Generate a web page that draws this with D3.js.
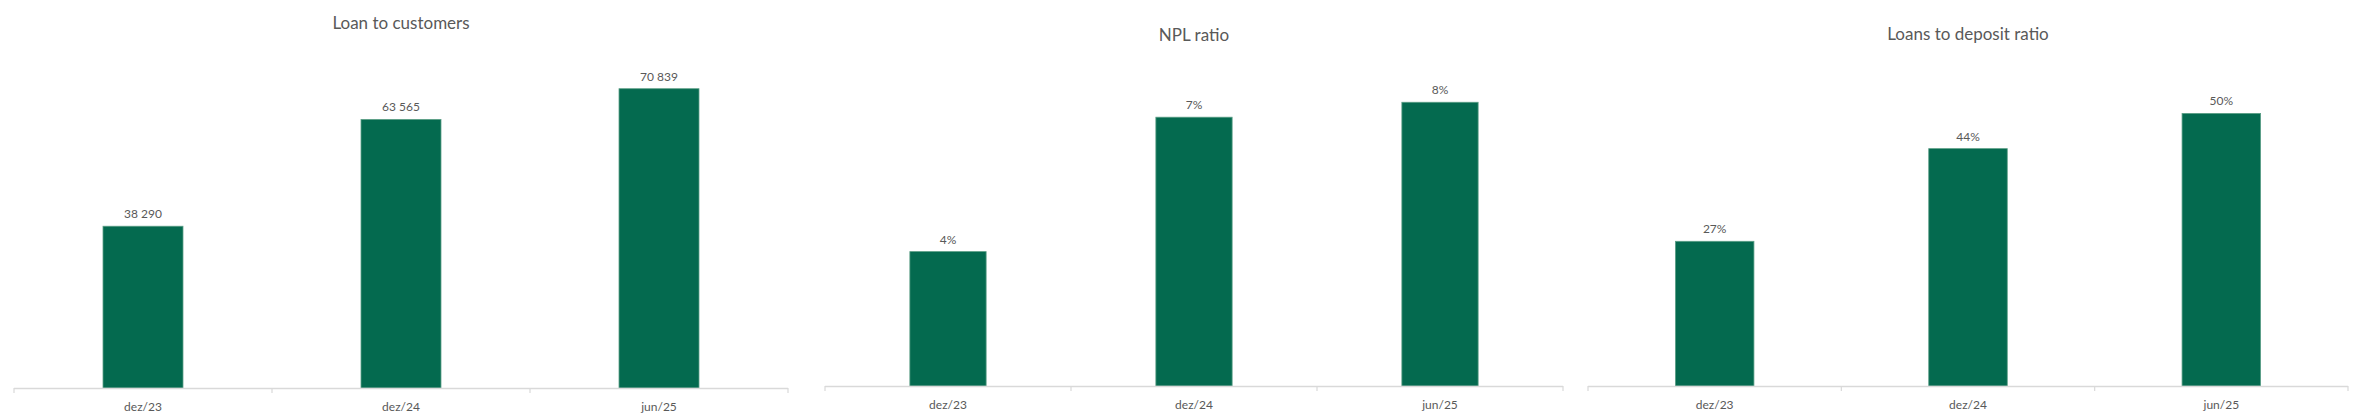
<!DOCTYPE html>
<html lang="en">
    <head>
        <meta charset="utf-8">
        <title>Loans, NPL and LTD</title>
        <script src="https://d3js.org/d3.v7.min.js"></script>
        <style>
            body { margin: 0; background: #fff; }
            svg text { font-family: Lato, "Open Sans", sans-serif; fill: #595959; }
        </style>
    </head>
    <body>
        <svg width="2358" height="420" id="svg"></svg>
        <script>
            // data
            var categories = ["dez/23", "dez/24", "jun/25"];
            var titles = ["Loan to customers", "NPL ratio", "Loans to deposit ratio"];
            var loanValues = [38290, 63565, 70839];
            var nplValues = [0.036, 0.072, 0.076];
            var ltdValues = [0.267, 0.438, 0.503];

            var svg = d3.select("#svg");

            var fmtLoan = function(v) { return d3.format(",")(v).replace(/,/g, " "); };
            var fmtPct = d3.format(".0%");

            // one panel per metric: where it sits and how the value axis runs
            var panels = [
                {title: titles[0], values: loanValues, fmt: fmtLoan, x0: 14, x1: 788, base: 388, titleY: 29, yMax: 80000},
                {title: titles[1], values: nplValues, fmt: fmtPct, x0: 825, x1: 1563, base: 386, titleY: 41, yMax: 0.09},
                {title: titles[2], values: ltdValues, fmt: fmtPct, x0: 1588, x1: 2348, base: 386, titleY: 40, yMax: 0.62}
            ];

            panels.forEach(function(p) {
                var g = svg.append("g");

                var x = d3.scaleBand()
                    .domain(categories)
                    .range([p.x0, p.x1])
                    .paddingInner(0.69)
                    .paddingOuter(0.345);

                var y = d3.scaleLinear()
                    .domain([0, p.yMax])
                    .range([p.base, 50]);

                g.append("text")
                    .attr("x", (p.x0 + p.x1) / 2)
                    .attr("y", p.titleY)
                    .attr("text-anchor", "middle")
                    .style("font-size", "17px")
                    .text(p.title);

                // bars
                g.selectAll("rect")
                    .data(p.values)
                    .enter().append("rect")
                    .attr("x", function(d, i) { return x(categories[i]); })
                    .attr("width", x.bandwidth())
                    .attr("y", function(d) { return y(d); })
                    .attr("height", function(d) { return y(0) - y(d); })
                    .attr("fill", "#046a4f")
                    .attr("stroke", "#5b9e86")
                    .attr("stroke-width", 0.8);

                // data labels
                g.selectAll("text.lbl")
                    .data(p.values)
                    .enter().append("text")
                    .attr("class", "lbl")
                    .attr("x", function(d, i) { return x(categories[i]) + x.bandwidth() / 2; })
                    .attr("y", function(d) { return y(d) - 8; })
                    .attr("text-anchor", "middle")
                    .style("font-size", "12px")
                    .text(function(d) { return p.fmt(d); });

                // category axis, ticks between categories like the original
                var axis = g.append("g")
                    .attr("transform", "translate(0," + p.base + ")")
                    .call(d3.axisBottom(x).tickSize(0).tickPadding(14));
                axis.select(".domain").remove();
                axis.selectAll("text").style("font-size", "12px").style("fill", "#595959");

                var step = x.step();
                var bounds = d3.range(categories.length + 1).map(function(i) { return p.x0 + i * step; });
                g.append("line")
                    .attr("x1", p.x0).attr("x2", p.x1)
                    .attr("y1", p.base + 0.5).attr("y2", p.base + 0.5)
                    .attr("stroke", "#d9d9d9").attr("stroke-width", 1.5);
                g.selectAll("line.tick")
                    .data(bounds)
                    .enter().append("line")
                    .attr("class", "tick")
                    .attr("x1", function(d) { return d; }).attr("x2", function(d) { return d; })
                    .attr("y1", p.base).attr("y2", p.base + 5)
                    .attr("stroke", "#d9d9d9").attr("stroke-width", 1.2);
            });
        </script>
    </body>
</html>
